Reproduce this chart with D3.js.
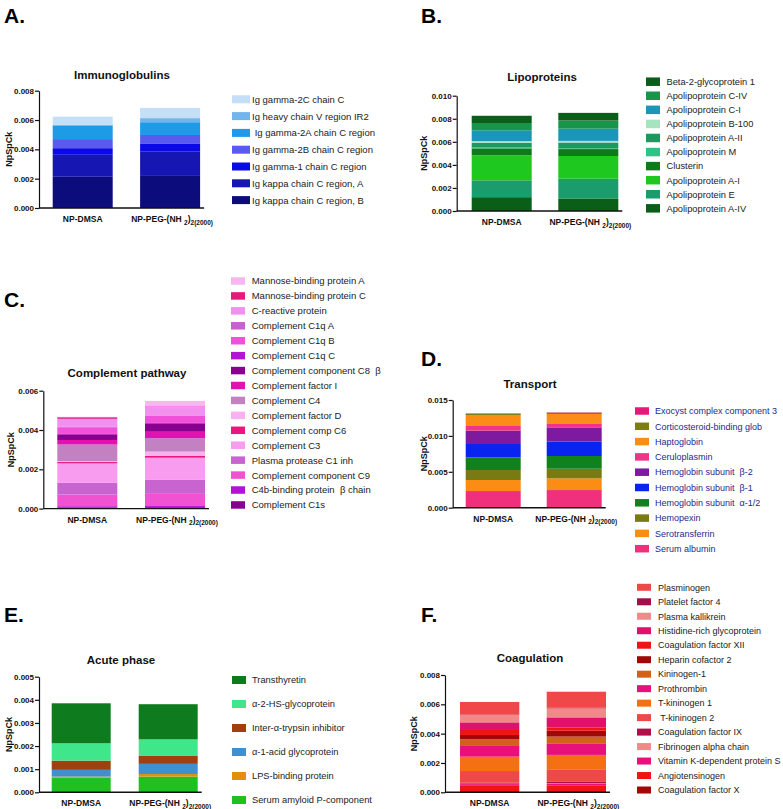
<!DOCTYPE html>
<html><head><meta charset="utf-8">
<script src="https://cdn.jsdelivr.net/npm/d3@7"></script>
<style>body{margin:0;background:#fff} text{font-family:"Liberation Sans",Arial,sans-serif}</style>
</head><body><svg id="c" width="783" height="809"></svg>
<script>
const categories = ["NP-DMSA", "NP-PEG-(NH2)2(2000)"];

// A. Immunoglobulins (legend order, top of stack first)
const igSeries = ["Ig gamma-2C chain C","Ig heavy chain V region IR2"," Ig gamma-2A chain C region","Ig gamma-2B chain C region","Ig gamma-1 chain C region","Ig kappa chain C region, A","Ig kappa chain C region, B"];
const igDMSA = [0.00055,0.00005,0.00093,0.00062,0.00045,0.0015,0.00213];
const igPEG  = [0.0007,0.00028,0.00087,0.00061,0.00053,0.0016,0.00224];
const igTicks = [0,0.002,0.004,0.006,0.008];

// B. Lipoproteins
const lpSeries = ["Beta-2-glycoprotein 1","Apolipoprotein C-IV","Apolipoprotein C-I","Apolipoprotein B-100","Apolipoprotein A-II","Apolipoprotein M","Clusterin","Apolipoprotein A-I","Apolipoprotein E","Apolipoprotein A-IV"];
const lpDMSA = [0.00063,0.00063,0.00094,0.00015,0.0004,0.00008,0.0006,0.00217,0.00146,0.0012];
const lpPEG  = [0.00066,0.00071,0.00106,0.00014,0.00051,0.00006,0.0006,0.00197,0.00171,0.00109];
const lpTicks = [0,0.002,0.004,0.006,0.008,0.010];

// C. Complement pathway
const cpSeries = ["Mannose-binding protein A","Mannose-binding protein C","C-reactive protein","Complement C1q A","Complement C1q B","Complement C1q C","Complement component C8  \u03b2","Complement factor I","Complement C4","Complement factor D","Complement comp C6","Complement C3","Plasma protease C1 inh","Complement component C9","C4b-binding protein  \u03b2 chain","Complement C1s"];
const cpDMSA = [0.00002,0.00008,0.00041,0.00002,0.00034,0.00002,0.00029,0.00023,0.00084,0.00005,0.00007,0.00099,0.00059,0.0006,0.00008,0.00004];
const cpPEG  = [0.00024,0.00002,0.00047,0.00002,0.00037,0.00002,0.00043,0.00033,0.00068,0.00022,0.00009,0.00113,0.00071,0.00062,0.0001,0.00003];
const cpTicks = [0,0.002,0.004,0.006];

// D. Transport
const trSeries = ["Exocyst complex component 3","Corticosteroid-binding glob","Haptoglobin","Ceruloplasmin","Hemoglobin subunit  \u03b2-2","Hemoglobin subunit  \u03b2-1","Hemoglobin subunit  \u03b1-1/2","Hemopexin","Serotransferrin","Serum albumin"];
const trDMSA = [0.00005,0.00018,0.00153,0.00065,0.00186,0.00186,0.00176,0.00139,0.00154,0.00232];
const trPEG  = [0.00005,0.00018,0.0013,0.00056,0.00199,0.002,0.00177,0.00134,0.00163,0.00246];
const trTicks = [0,0.005,0.010,0.015];

// E. Acute phase
const apSeries = ["Transthyretin","\u03b1-2-HS-glycoprotein","Inter-\u03b1-trypsin inhibitor","\u03b1-1-acid glycoprotein","LPS-binding protein","Serum amyloid P-component"];
const apDMSA = [0.00173,0.00075,0.0004,0.00029,0.00005,0.00063];
const apPEG  = [0.00152,0.0007,0.00036,0.00044,0.00011,0.00068];
const apTicks = [0,0.001,0.002,0.003,0.004,0.005];

// F. Coagulation
const cgSeries = ["Plasminogen","Platelet factor 4","Plasma kallikrein","Histidine-rich glycoprotein","Coagulation factor XII","Heparin cofactor 2","Kininogen-1","Prothrombin","T-kininogen 1"," T-kininogen 2","Coagulation factor IX","Fibrinogen alpha chain","Vitamin K-dependent protein S","Angiotensinogen","Coagulation factor X"];
const cgDMSA = [0.00086,0.00003,0.0005,0.00052,0.00034,0.0003,0.00045,0.00073,0.00098,0.0008,0.00006,0.00003,0.00012,0.00036,0.00008];
const cgPEG  = [0.0011,0.00003,0.00062,0.00068,0.00023,0.0004,0.00046,0.00079,0.00098,0.00086,0.0001,0.00003,0.0001,0.0004,0.00008];
const cgTicks = [0,0.002,0.004,0.006,0.008];

// colours (styles, separate from data)
const igColors = ["#c4dff6","#72b4ec","#1e9be6","#5a5aee","#0a0ae6","#1616b2","#0c0c7c"];
const lpColors = ["#0c5c1a","#18954a","#1a96b6","#a6e4c0","#1d9960","#2cc486","#0f7a1c","#1ec81e","#1b9c6c","#0b5e18"];
const cpColors = ["#f8b6f0","#e6187c","#f290f0","#c462cc","#f250d8","#b414d6","#8a008e","#e012b0","#c282c2","#f8b2f0","#e8187e","#f89cf0","#c864d0","#f052d2","#b012d8","#880090"];
const trColors = ["#e8187a","#7e7e10","#fb8c14","#f0348a","#7e1aa0","#0a24f0","#10821c","#7a7a12","#fb8c14","#f0307c"];
const apColors = ["#0e7c1e","#40e68a","#a0400e","#4090d0","#e0900c","#20c020"];
const cgColors = ["#f04848","#a0104a","#f28888","#e0106c","#f01414","#a20808","#d0621a","#e8107a","#f57012","#f04848","#b0104a","#f28888","#e8107a","#f01414","#a20808"];

const svg = d3.select("#c");
svg.append("rect").attr("width",783).attr("height",809).attr("fill","#fff");

function panel(p){
  const g = svg.append("g");
  const y = d3.scaleLinear().domain([0, p.yMax]).range([p.y0, p.yTop]);
  const step = p.bw + p.gap;
  const x = d3.scaleBand().domain(categories)
    .range([p.ax, p.ax + 2*p.off + 2*p.bw + p.gap])
    .paddingInner(p.gap/step).paddingOuter(p.off/step);
  const rows = categories.map((c,i)=>{
    const r = {cat:c};
    p.series.forEach((s,j)=>{ r[s] = (i===0 ? p.dmsa : p.peg)[j]; });
    return r;
  });
  const keys = p.series.slice().reverse();
  const colorOf = {};
  p.series.forEach((s,j)=> colorOf[s] = p.colors[j]);
  const stacked = d3.stack().keys(keys)(rows);
  g.selectAll("g.layer").data(stacked).join("g").attr("fill", d=>colorOf[d.key])
    .selectAll("rect").data(d=>d).join("rect")
    .attr("x", d=>x(d.data.cat)).attr("width", x.bandwidth())
    .attr("y", d=>y(d[1])).attr("height", d=>y(d[0])-y(d[1]));
  // y axis
  const ya = g.append("g").attr("transform",`translate(${p.ax},0)`)
    .call(d3.axisLeft(y).tickValues(p.ticks).tickFormat(d3.format(".3f")).tickSize(4).tickSizeOuter(0));
  ya.selectAll("text").attr("font-size",8).attr("font-weight","bold").attr("fill","#111").attr("x",-5);
  ya.selectAll("line,path").attr("stroke","#111").attr("stroke-width",1.2);
  // x axis line
  g.append("line").attr("x1",p.ax).attr("x2", x(categories[1]) + x.bandwidth() + 4)
    .attr("y1",p.y0).attr("y2",p.y0).attr("stroke","#111").attr("stroke-width",1.4);
  // x labels
  const lab0 = g.append("text").attr("x", x(categories[0]) + x.bandwidth()/2).attr("y", p.y0 + 14)
    .attr("text-anchor","middle").attr("font-size",8.5).attr("font-weight","bold").attr("fill","#111").text(categories[0]);
  const lab1 = g.append("text").attr("x", x(categories[1]) + x.bandwidth()/2 + 2).attr("y", p.y0 + 14)
    .attr("text-anchor","middle").attr("font-size",8.5).attr("font-weight","bold").attr("fill","#111");
  lab1.append("tspan").text("NP-PEG-(NH ");
  lab1.append("tspan").attr("dy",2.5).attr("font-size",6.5).text("2");
  lab1.append("tspan").attr("dy",-2.5).text(")");
  lab1.append("tspan").attr("dy",2.5).attr("font-size",6.5).text("2(2000)");
  // title
  g.append("text").attr("x",p.tx).attr("y",p.ty).attr("text-anchor","middle")
    .attr("font-size",11.5).attr("font-weight","bold").attr("fill","#111").text(p.title);
  // y title
  g.append("text").attr("transform",`translate(${p.ax - p.ytOff},${(p.y0+p.yTop)/2}) rotate(-90)`)
    .attr("text-anchor","middle").attr("font-size",9).attr("font-weight","bold").attr("fill","#111").text("NpSpCk");
  // legend
  const L = p.leg;
  p.series.forEach((s,j)=>{
    const cy = L.y0 + j*L.dy;
    g.append("rect").attr("x",L.sx).attr("y",cy - L.sh/2).attr("width",L.sw).attr("height",L.sh).attr("fill",p.colors[j]);
    g.append("text").attr("x",L.tx).attr("y",cy + L.fs*0.36).attr("font-size",L.fs).attr("fill",L.color||"#222").attr("xml:space","preserve").style("white-space","pre").text(s);
  });
  // panel letter
  g.append("text").attr("x",p.lx).attr("y",p.ly).attr("font-size",21).attr("font-weight","bold").attr("fill","#000").text(p.letter);
}

panel({letter:"A.", lx:4, ly:23, title:"Immunoglobulins", tx:122, ty:79,
  series:igSeries, dmsa:igDMSA, peg:igPEG, colors:igColors, ticks:igTicks, yMax:0.008,
  ax:39, y0:208, yTop:90.7, off:13.7, bw:60, gap:27.4, ytOff:27,
  leg:{sx:232, sw:18, sh:8, tx:252, y0:99.3, dy:16.8, fs:9.5}});

panel({letter:"B.", lx:421, ly:23, title:"Lipoproteins", tx:542, ty:81,
  series:lpSeries, dmsa:lpDMSA, peg:lpPEG, colors:lpColors, ticks:lpTicks, yMax:0.010,
  ax:456.7, y0:211, yTop:95.7, off:15, bw:60, gap:26.6, ytOff:30,
  leg:{sx:646, sw:14, sh:8.5, tx:666.5, y0:81.7, dy:14.07, fs:9.3}});

panel({letter:"C.", lx:4, ly:307, title:"Complement pathway", tx:127, ty:377,
  series:cpSeries, dmsa:cpDMSA, peg:cpPEG, colors:cpColors, ticks:cpTicks, yMax:0.006,
  ax:43.3, y0:508.6, yTop:390.7, off:14, bw:60, gap:27.7, ytOff:29,
  leg:{sx:231, sw:14, sh:7.5, tx:251.7, y0:281, dy:14.93, fs:9.5}});

panel({letter:"D.", lx:421, ly:366, title:"Transport", tx:530, ty:388,
  series:trSeries, dmsa:trDMSA, peg:trPEG, colors:trColors, ticks:trTicks, yMax:0.015,
  ax:452.7, y0:507.7, yTop:400, off:13, bw:55, gap:26, ytOff:26,
  leg:{sx:635, sw:14, sh:7.5, tx:655, y0:411, dy:15.3, fs:9, color:"#1c2a8c"}});

panel({letter:"E.", lx:4, ly:622, title:"Acute phase", tx:121, ty:664,
  series:apSeries, dmsa:apDMSA, peg:apPEG, colors:apColors, ticks:apTicks, yMax:0.005,
  ax:39, y0:792.3, yTop:676.7, off:12.7, bw:59, gap:28, ytOff:27,
  leg:{sx:232, sw:14, sh:8, tx:252, y0:680, dy:24, fs:9.3}});

panel({letter:"F.", lx:421, ly:622, title:"Coagulation", tx:530, ty:662,
  series:cgSeries, dmsa:cgDMSA, peg:cgPEG, colors:cgColors, ticks:cgTicks, yMax:0.008,
  ax:445, y0:792.3, yTop:675, off:15, bw:59.3, gap:27.4, ytOff:28,
  leg:{sx:637, sw:14, sh:7, tx:658, y0:587.3, dy:14.48, fs:9}});
</script></body></html>
